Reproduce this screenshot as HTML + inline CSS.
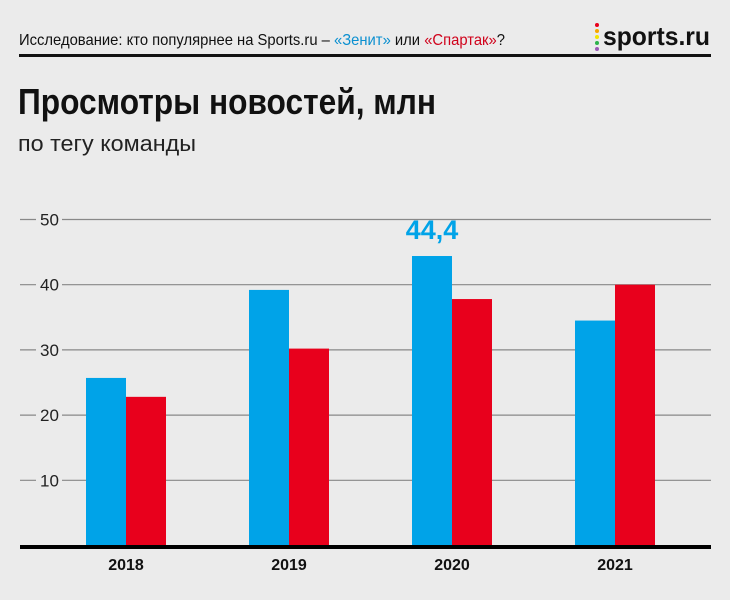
<!DOCTYPE html>
<html><head><meta charset="utf-8"><style>
body{margin:0;width:730px;height:600px;background:#ebebeb;overflow:hidden;font-family:"Liberation Sans",sans-serif}
svg{display:block}
</style></head><body>
<svg width="730" height="600">
<text x="19" y="45" font-size="16" fill="#111" textLength="486" lengthAdjust="spacingAndGlyphs">Исследование: кто популярнее на Sports.ru – <tspan fill="#0a8fd0">«Зенит»</tspan> или <tspan fill="#d0021b">«Спартак»</tspan>?</text>
<g>
<circle cx="597" cy="25" r="2" fill="#e8001c"/><circle cx="597" cy="31" r="2" fill="#f7a600"/><circle cx="597" cy="37" r="2" fill="#f3e500"/><circle cx="597" cy="43" r="2" fill="#2db34a"/><circle cx="597" cy="49" r="2" fill="#9b59b6"/>
<text x="603" y="45" font-size="26" font-weight="bold" fill="#111" textLength="107" lengthAdjust="spacingAndGlyphs">sports.ru</text>
</g>
<rect x="19" y="54" width="692" height="3" fill="#111"/>
<text x="18" y="114" font-size="36" font-weight="bold" fill="#111" textLength="418" lengthAdjust="spacingAndGlyphs">Просмотры новостей, млн</text>
<text x="18" y="151" font-size="22" fill="#222" textLength="178" lengthAdjust="spacingAndGlyphs">по тегу команды</text>
<g id="grid"></g><g id="bars"></g><g id="xl"></g>
<rect x="20" y="545" width="691" height="4" fill="#000"/>
</svg>
<script>
const categories=["2018","2019","2020","2021"];
const zenit=[25.7,39.2,44.4,34.5];
const spartak=[22.8,30.2,37.8,40.0];
const ticks=[10,20,30,40,50];
const ns="http://www.w3.org/2000/svg";
const y=v=>545.5-v*6.52;
const cx=i=>126+i*163;
function mk(t,a,p){const e=document.createElementNS(ns,t);for(const k in a)e.setAttribute(k,a[k]);p.appendChild(e);return e;}
const g=document.getElementById('grid');
ticks.forEach(t=>{
 const l=mk('line',{x1:20,x2:711,y1:y(t),y2:y(t),stroke:'#888','stroke-width':1.2},g);
 
 
 const r=mk('rect',{x:36,y:y(t)-10,width:26,height:20,fill:'#ebebeb'},g);
 const tx=mk('text',{x:40,y:y(t)+6,'font-size':17,fill:'#222'},g);tx.textContent=t;
 
 
});
const b=document.getElementById('bars'),xl=document.getElementById('xl');
categories.forEach((c,i)=>{
 const r1=mk('rect',{x:cx(i)-40,y:y(zenit[i]),width:40,height:545.5-y(zenit[i]),fill:'#00a3e8'},b);
 
 
 const r2=mk('rect',{x:cx(i),y:y(spartak[i]),width:40,height:545.5-y(spartak[i]),fill:'#e8001c'},b);
 
 
 const t=mk('text',{x:cx(i),y:570,'font-size':16,'font-weight':'bold','text-anchor':'middle',fill:'#111'},xl);t.textContent=c;
 
 
});
let mi=zenit.indexOf(Math.max(...zenit));
const v=mk('text',{x:cx(mi)-20,y:y(zenit[mi])-17,'font-size':27,'font-weight':'bold','text-anchor':'middle',fill:'#00a3e8'},b);
v.textContent=String(zenit[mi]).replace('.',',');


</script>
</body></html>
